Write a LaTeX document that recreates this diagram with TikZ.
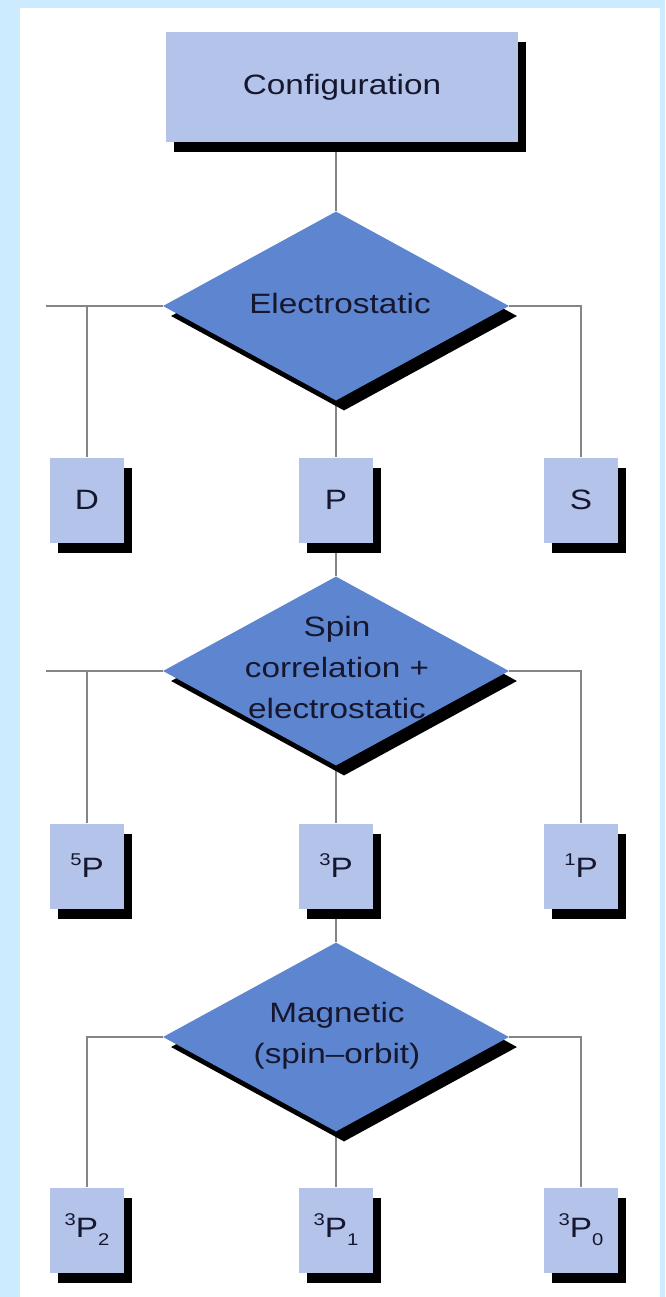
\documentclass[tikz,border=0pt]{standalone}
\usepackage{fontspec}
\setmainfont[FakeStretch=1.19]{Liberation Sans}
\usetikzlibrary{shapes.geometric,shadows,backgrounds}
\definecolor{framecol}{HTML}{CCEBFF}
\definecolor{boxfill}{HTML}{B3C3EA}
\definecolor{dmdfill}{HTML}{5E86D0}
\definecolor{ink}{HTML}{16172F}
\definecolor{wire}{HTML}{858585}
\newcommand\supnum[1]{\raisebox{12pt}{\fontsize{17}{17}\selectfont #1}}
\newcommand\subnum[1]{\raisebox{-8pt}{\fontsize{17}{17}\selectfont #1}}
\tikzset{
  shade/.style={drop shadow={shadow xshift=8pt, shadow yshift=-10pt, fill=black, opacity=1}},
  bigbox/.style={rectangle, fill=boxfill, minimum width=352pt, minimum height=110pt, inner sep=0pt, shade,
    font=\fontsize{28}{34}\selectfont, text=ink},
  statebox/.style={rectangle, fill=boxfill, minimum width=74pt, minimum height=85pt, inner sep=0pt, shade,
    font=\fontsize{28}{34}\selectfont, text=ink},
  decision/.style={diamond, fill=dmdfill, minimum width=346pt, minimum height=189pt, inner sep=0pt, shade},
  dtext/.style={align=center, font=\fontsize{28}{41}\selectfont, text=ink, inner sep=0pt},
  wirestyle/.style={draw=wire, line width=1.5pt}
}
\begin{document}
\begin{tikzpicture}[x=1pt,y=-1pt]
\useasboundingbox (0,0) rectangle (665,1297);

% top
\node[bigbox] (cfg) at (342,87) {Configuration};

% level 1
\node[decision] (d1) at (336,306) {};
\node[dtext] (d1t) at (340,303) {Electrostatic};
\node[statebox] (sD) at (87,500) {D};
\node[statebox] (sP) at (336,500) {P};
\node[statebox] (sS) at (581,500) {S};
\coordinate (l1) at (46,306);

% level 2
\node[decision] (d2) at (336,671) {};
\node[dtext] (d2t) at (337,667) {Spin\\correlation +\\electrostatic};
\node[statebox] (s5P) at (87,866) {\supnum{5}P};
\node[statebox] (s3P) at (336,866) {\supnum{3}P};
\node[statebox] (s1P) at (581,866) {\supnum{1}P};
\coordinate (l2) at (46,671);

% level 3
\node[decision] (d3) at (336,1037) {};
\node[dtext] (d3t) at (337,1036) {Magnetic\\(spin–orbit)};
\node[statebox] (s3P2) at (87,1230) {\supnum{3}P\subnum{2}};
\node[statebox] (s3P1) at (336,1230) {\supnum{3}P\subnum{1}};
\node[statebox] (s3P0) at (581,1230) {\supnum{3}P\subnum{0}};

\begin{pgfonlayer}{background}
  \fill[framecol] (0,0) rectangle (665,1297);
  \fill[white] (20,8) rectangle (660,1297);

  \draw[wirestyle] (d1.north |- cfg.south) -- (d1.north);
  \draw[wirestyle] (d1.west) -- (l1);
  \draw[wirestyle] (sD.north |- d1.west) -- (sD.north);
  \draw[wirestyle] (d1.east) -| (sS.north);
  \draw[wirestyle] (d1.south) -- (sP.north);
  \draw[wirestyle] (sP.south) -- (d2.north);

  \draw[wirestyle] (d2.west) -- (l2);
  \draw[wirestyle] (s5P.north |- d2.west) -- (s5P.north);
  \draw[wirestyle] (d2.east) -| (s1P.north);
  \draw[wirestyle] (d2.south) -- (s3P.north);
  \draw[wirestyle] (s3P.south) -- (d3.north);

  \draw[wirestyle] (d3.west) -| (s3P2.north);
  \draw[wirestyle] (d3.east) -| (s3P0.north);
  \draw[wirestyle] (d3.south) -- (s3P1.north);
\end{pgfonlayer}
\end{tikzpicture}
\end{document}
